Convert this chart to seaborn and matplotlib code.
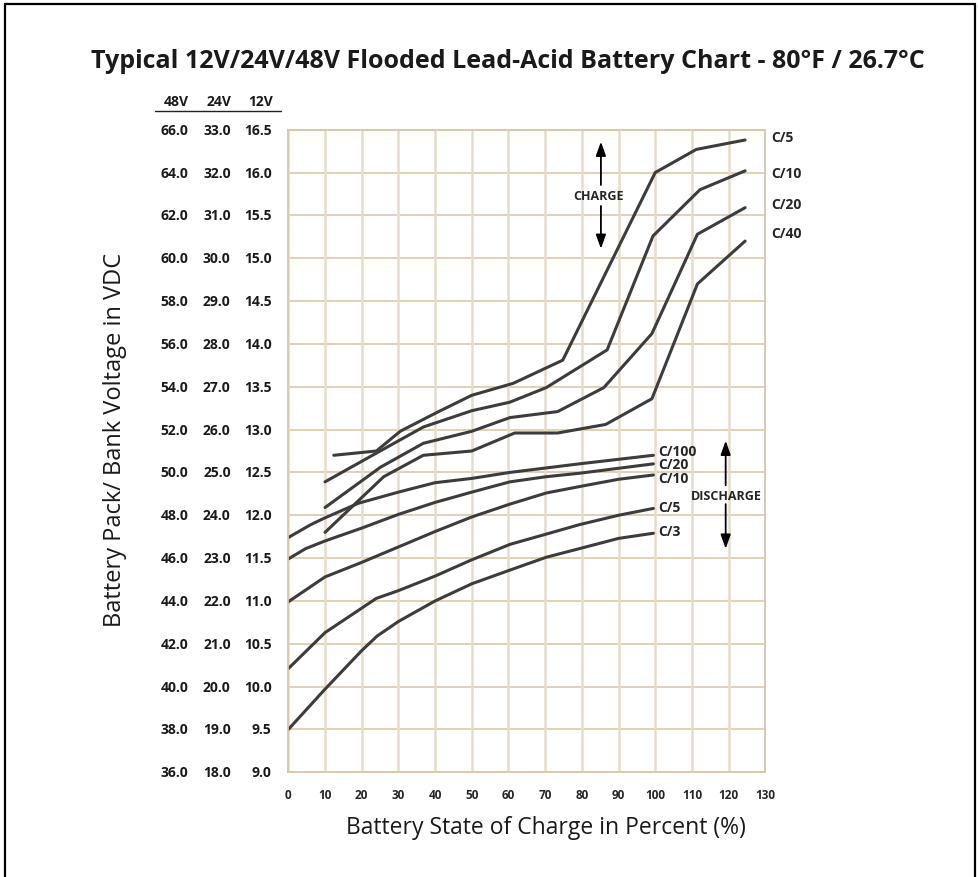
import pandas as pd
import seaborn as sns
import matplotlib.pyplot as plt
from matplotlib import transforms

# state of charge (%) and 12V voltage
c5_chg_x = [12.4, 24, 30.5, 40.5, 50, 61.3, 74.8, 100, 111.2, 124.5]
c5_chg_y = [12.70, 12.75, 12.98, 13.20, 13.40, 13.54, 13.81, 16.00, 16.27, 16.38]
c10_chg_x = [10, 24.2, 36.8, 50, 60.4, 70.3, 86.9, 99.4, 112.2, 124.5]
c10_chg_y = [12.39, 12.73, 13.03, 13.22, 13.32, 13.49, 13.93, 15.26, 15.80, 16.02]
c20_chg_x = [10, 25.1, 36.8, 50, 60.4, 73.4, 86, 99.1, 111.5, 124.5]
c20_chg_y = [12.09, 12.56, 12.84, 12.98, 13.14, 13.21, 13.49, 14.12, 15.28, 15.59]
c40_chg_x = [10, 26, 36.8, 50, 61.7, 73.4, 86.5, 99.1, 111.5, 124.5]
c40_chg_y = [11.80, 12.45, 12.70, 12.75, 12.96, 12.96, 13.06, 13.36, 14.70, 15.20]

c100_dis_x = [0, 6.1, 10, 19.1, 30, 40, 50, 60.4, 79.3, 99.5]
c100_dis_y = [11.74, 11.89, 11.97, 12.14, 12.27, 12.38, 12.43, 12.50, 12.60, 12.70]
c20_dis_x = [0, 4.7, 10, 20, 30, 40, 50, 60.4, 70.3, 79.3, 99.5]
c20_dis_y = [11.49, 11.61, 11.70, 11.85, 12.01, 12.15, 12.27, 12.39, 12.45, 12.49, 12.60]
c10_dis_x = [0, 10, 20, 30, 40, 50, 60.4, 70.3, 80, 90, 99.5]
c10_dis_y = [10.99, 11.28, 11.45, 11.63, 11.81, 11.98, 12.13, 12.26, 12.34, 12.42, 12.47]
c5_dis_x = [0, 10, 24, 30, 40, 50, 60.4, 70.3, 79.3, 90, 99.5]
c5_dis_y = [10.21, 10.63, 11.03, 11.12, 11.29, 11.48, 11.66, 11.78, 11.89, 12.00, 12.08]
c3_dis_x = [0, 10, 20, 24.2, 30, 40, 50, 60.4, 70.3, 79.3, 90, 99.5]
c3_dis_y = [9.50, 9.97, 10.42, 10.59, 10.76, 11.00, 11.20, 11.36, 11.51, 11.61, 11.73, 11.79]

charge_labels = ["C/5", "C/10", "C/20", "C/40"]
discharge_labels = ["C/100", "C/20", "C/10", "C/5", "C/3"]

y_ticks_12v = [9.0, 9.5, 10.0, 10.5, 11.0, 11.5, 12.0, 12.5, 13.0, 13.5, 14.0, 14.5, 15.0, 15.5, 16.0, 16.5]
x_ticks = list(range(0, 140, 10))

curves = {
    "charge C/5": (c5_chg_x, c5_chg_y),
    "charge C/10": (c10_chg_x, c10_chg_y),
    "charge C/20": (c20_chg_x, c20_chg_y),
    "charge C/40": (c40_chg_x, c40_chg_y),
    "discharge C/100": (c100_dis_x, c100_dis_y),
    "discharge C/20": (c20_dis_x, c20_dis_y),
    "discharge C/10": (c10_dis_x, c10_dis_y),
    "discharge C/5": (c5_dis_x, c5_dis_y),
    "discharge C/3": (c3_dis_x, c3_dis_y),
}
rows = []
for name, (xs, ys) in curves.items():
    for xv, yv in zip(xs, ys):
        rows.append({"curve": name, "soc": xv, "volts": yv})
df = pd.DataFrame(rows)

sns.set_style("white")
plt.rcParams['font.family'] = ['Open Sans', 'DejaVu Sans']

W, H = 979, 878
fig = plt.figure(figsize=(W / 100, H / 100), dpi=100)
ax = fig.add_axes([288.3 / W, 1 - 773.3 / H, 477 / W, 642.6 / H])

line_col = "#3c3c3c"
sns.lineplot(data=df, x="soc", y="volts", hue="curve",
             palette=[line_col] * len(curves), estimator=None, sort=False,
             legend=False, linewidth=2.2, ax=ax)

ax.set_xlim(0, 130)
ax.set_ylim(9.0, 16.5)
ax.set_xticks(x_ticks)
ax.set_yticks(y_ticks_12v)
ax.set_yticklabels([])
ax.set_xticklabels([str(t) for t in x_ticks], fontsize=8.5, fontweight="bold")
ax.tick_params(axis="x", length=6, width=1.3, color="#d9cbae", pad=5)
ax.tick_params(axis="y", length=5, width=1.2, color="#d9cbae")
ax.set_xlabel("")
ax.set_ylabel("")
for t in y_ticks_12v:
    ax.axhline(t, color="#d6c5a0", lw=1.1, zorder=0)
for t in x_ticks:
    ax.axvline(t, color="#e6dccb", lw=1.8, zorder=0)
for s in ax.spines.values():
    s.set_color("#d6c7a8")
    s.set_linewidth(1.3)

# three voltage scales
tr = transforms.blended_transform_factory(fig.transFigure, ax.transData)
for v in y_ticks_12v:
    for px, mult in [(271.7, 1), (230.7, 2), (188.3, 4)]:
        ax.text(px / W, v, f"{v * mult:.1f}", transform=tr, ha="right", va="center",
                fontsize=10, fontweight="bold", color="#1a1a1a")
for px, lab in [(188.3, "48V"), (231.7, "24V"), (273.3, "12V")]:
    fig.text(px / W, 1 - 101.7 / H, lab, ha="right", va="center",
             fontsize=10, fontweight="bold", color="#1a1a1a")
fig.add_artist(plt.Line2D([155 / W, 281 / W], [1 - 112 / H] * 2, color="#222222", lw=1.0))

# curve labels
for lab, yv in zip(charge_labels, [16.41, 16.0, 15.63, 15.30]):
    ax.text(131.7, yv, lab, ha="left", va="center", fontsize=10,
            fontweight="bold", clip_on=False)
for lab, yv in zip(discharge_labels, [12.75, 12.60, 12.43, 12.10, 11.82]):
    ax.text(100.9, yv, lab, ha="left", va="center", fontsize=10, fontweight="bold")

# charge / discharge arrows
arrow = dict(arrowstyle="-|>,head_length=0.7,head_width=0.25", color="black",
             lw=1.3, mutation_scale=12, shrinkA=0, shrinkB=0)
ax.text(84.6, 15.73, "CHARGE", ha="center", va="center", fontsize=9, fontweight="bold")
ax.annotate("", xy=(85.2, 16.36), xytext=(85.2, 15.855), arrowprops=arrow)
ax.annotate("", xy=(85.2, 15.11), xytext=(85.2, 15.61), arrowprops=arrow)
ax.text(119.5, 12.23, "DISCHARGE", ha="center", va="center", fontsize=9, fontweight="bold")
ax.annotate("", xy=(119.2, 12.87), xytext=(119.2, 12.35), arrowprops=arrow)
ax.annotate("", xy=(119.2, 11.61), xytext=(119.2, 12.13), arrowprops=arrow)

fig.text(508 / W, 1 - 62 / H,
         "Typical 12V/24V/48V Flooded Lead-Acid Battery Chart - 80°F / 26.7°C",
         ha="center", va="center", fontsize=18, fontweight="bold", color="#1a1a1a")
fig.text(546 / W, 1 - 828 / H, "Battery State of Charge in Percent (%)",
         ha="center", va="center", fontsize=16.5, color="#1a1a1a")
fig.text(115 / W, 1 - 440 / H, "Battery Pack/ Bank Voltage in VDC", rotation=90,
         ha="center", va="center", fontsize=17, color="#1a1a1a")

# outer frame (open at the bottom)
for xs, ys in [([5, 5], [H, 5]), ([5, 975], [5, 5]), ([975, 975], [5, H])]:
    fig.add_artist(plt.Line2D([x / W for x in xs], [1 - y / H for y in ys],
                              color="black", lw=1.6))

fig.savefig("out.png", dpi=100)
